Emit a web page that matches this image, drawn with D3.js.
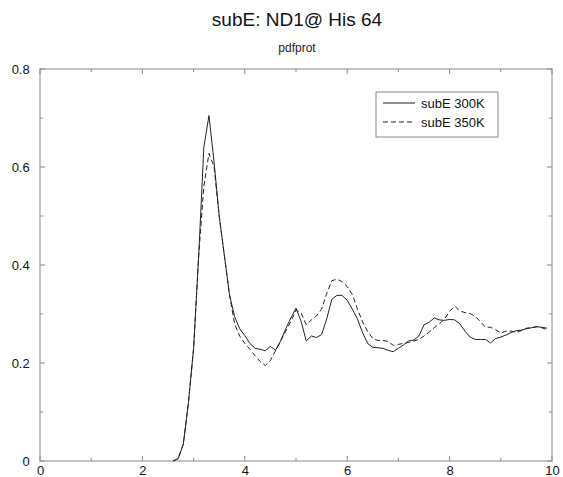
<!DOCTYPE html>
<html>
<head>
<meta charset="utf-8">
<script src="https://cdn.jsdelivr.net/npm/d3@7"></script>
<style>
  html, body { margin: 0; padding: 0; background: #fff; }
  svg { display: block; font-family: "Liberation Sans", Arial, sans-serif; }
</style>
</head>
<body>
<svg id="chart" width="563" height="477"></svg>
<script>
// Radial distance (Å) shared by both series
const distance = [
  2.6, 2.7, 2.8, 2.9, 3.0, 3.1, 3.2, 3.3, 3.4, 3.5, 3.6, 3.7, 3.8, 3.9,
  4.0, 4.1, 4.2, 4.3, 4.4, 4.5, 4.6, 4.7, 4.8, 4.9,
  5.0, 5.1, 5.2, 5.3, 5.4, 5.5, 5.6, 5.7, 5.8, 5.9,
  6.0, 6.1, 6.2, 6.3, 6.4, 6.5, 6.6, 6.7, 6.8, 6.9,
  7.0, 7.1, 7.2, 7.3, 7.4, 7.5, 7.6, 7.7, 7.8, 7.9,
  8.0, 8.1, 8.2, 8.3, 8.4, 8.5, 8.6, 8.7, 8.8, 8.9,
  9.0, 9.1, 9.2, 9.3, 9.4, 9.5, 9.6, 9.7, 9.8, 9.9
];

// subE 300K
const pdf300 = [
  0.000, 0.005, 0.035, 0.120, 0.230, 0.420, 0.640, 0.705, 0.610, 0.500, 0.420, 0.340, 0.295, 0.270,
  0.256, 0.240, 0.230, 0.228, 0.225, 0.234, 0.226, 0.245, 0.270, 0.292,
  0.312, 0.285, 0.245, 0.255, 0.252, 0.258, 0.290, 0.330, 0.338, 0.338,
  0.328, 0.310, 0.290, 0.262, 0.240, 0.232, 0.231, 0.230, 0.226, 0.223,
  0.230, 0.237, 0.245, 0.247, 0.255, 0.278, 0.283, 0.292, 0.288, 0.287,
  0.289, 0.288, 0.280, 0.265, 0.253, 0.248, 0.248, 0.248, 0.241, 0.250,
  0.253, 0.257, 0.262, 0.266, 0.267, 0.270, 0.272, 0.274, 0.273, 0.271
];

// subE 350K
const pdf350 = [
  0.000, 0.005, 0.035, 0.120, 0.230, 0.420, 0.560, 0.628, 0.600, 0.500, 0.420, 0.340, 0.280, 0.255,
  0.240, 0.228, 0.215, 0.203, 0.195, 0.205, 0.225, 0.245, 0.265, 0.285,
  0.308, 0.302, 0.278, 0.288, 0.296, 0.310, 0.342, 0.368, 0.371, 0.366,
  0.356, 0.340, 0.310, 0.284, 0.264, 0.250, 0.246, 0.246, 0.244, 0.236,
  0.238, 0.240, 0.242, 0.245, 0.248, 0.255, 0.263, 0.272, 0.280, 0.290,
  0.305, 0.316, 0.306, 0.303, 0.301, 0.295, 0.285, 0.273, 0.273, 0.268,
  0.261, 0.265, 0.265, 0.263, 0.266, 0.271, 0.272, 0.274, 0.272, 0.268
];

const seriesNames = ["subE 300K", "subE 350K"];
const xTicks = [0, 2, 4, 6, 8, 10];
const yTicks = [0, 0.2, 0.4, 0.6, 0.8];
const titleText = "subE: ND1@ His 64";
const subtitleText = "pdfprot";

const svg = d3.select("#chart");
const frame = "#8a8a8a";
const ink = "#222";

const x = d3.scaleLinear().domain([0, 10]).range([40, 552]);
const y = d3.scaleLinear().domain([0, 0.8]).range([461, 69]);

// Titles
svg.append("text")
  .attr("x", 297).attr("y", 26)
  .attr("text-anchor", "middle")
  .attr("font-size", 19)
  .attr("fill", "#111")
  .text(titleText);
svg.append("text")
  .attr("x", 297).attr("y", 52)
  .attr("text-anchor", "middle")
  .attr("font-size", 12)
  .attr("fill", "#222")
  .text(subtitleText);

// Plot frame
svg.append("rect")
  .attr("x", x(0)).attr("y", y(0.8))
  .attr("width", x(10) - x(0)).attr("height", y(0) - y(0.8))
  .attr("fill", "none").attr("stroke", frame).attr("stroke-width", 1);

// Axes with inward ticks (major + minor)
const minorX = d3.range(0, 10.01, 1);
const minorY = d3.range(0, 0.801, 0.1);

const bottom = d3.axisBottom(x).tickValues(xTicks).tickSize(0).tickPadding(0)
  .tickFormat(d3.format("d"));
const gb = svg.append("g").attr("transform", `translate(0,${y(0)})`).call(bottom);
gb.select(".domain").remove();
gb.selectAll("text").attr("font-size", 13).attr("fill", "#111")
  .attr("y", 14).attr("dy", null)
  .attr("font-family", "Liberation Sans, Arial, sans-serif");

const left = d3.axisLeft(y).tickValues(yTicks).tickSize(0)
  .tickFormat(d => d === 0 ? "0" : d3.format(".1f")(d));
const gl = svg.append("g").attr("transform", `translate(${x(0) - 6},0)`).call(left);
gl.select(".domain").remove();
gl.selectAll("text").attr("font-size", 13).attr("fill", "#111").attr("dx", "-0.1em")
  .attr("font-family", "Liberation Sans, Arial, sans-serif");

const ticks = svg.append("g").attr("stroke", frame).attr("stroke-width", 1);
minorX.forEach(v => {
  const len = (v % 2 === 0) ? 5 : 3;
  ticks.append("line").attr("x1", x(v)).attr("x2", x(v)).attr("y1", y(0)).attr("y2", y(0) - len);
  ticks.append("line").attr("x1", x(v)).attr("x2", x(v)).attr("y1", y(0.8)).attr("y2", y(0.8) + len);
});
minorY.forEach(v => {
  const major = Math.abs(Math.round(v * 10) % 2) === 0;
  const len = major ? 5 : 3;
  ticks.append("line").attr("x1", x(0)).attr("x2", x(0) + len).attr("y1", y(v)).attr("y2", y(v));
  ticks.append("line").attr("x1", x(10)).attr("x2", x(10) - len).attr("y1", y(v)).attr("y2", y(v));
});

// Curves
const line = d3.line().x(d => x(d[0])).y(d => y(d[1]));
const data300 = distance.map((r, i) => [r, pdf300[i]]);
const data350 = distance.map((r, i) => [r, pdf350[i]]);

svg.append("path").datum(data300)
  .attr("d", line).attr("fill", "none")
  .attr("stroke", ink).attr("stroke-width", 1);
svg.append("path").datum(data350)
  .attr("d", line).attr("fill", "none")
  .attr("stroke", ink).attr("stroke-width", 1)
  .attr("stroke-dasharray", "5,3");

// Legend
const lg = svg.append("g");
lg.append("rect")
  .attr("x", 376).attr("y", 92).attr("width", 122).attr("height", 45)
  .attr("fill", "#fff").attr("stroke", frame).attr("stroke-width", 1);
const dashes = [null, "5,3"];
seriesNames.forEach((name, i) => {
  const cy = 103 + i * 19;
  lg.append("line")
    .attr("x1", 383).attr("x2", 415).attr("y1", cy).attr("y2", cy)
    .attr("stroke", ink).attr("stroke-width", 1)
    .attr("stroke-dasharray", dashes[i]);
  lg.append("text")
    .attr("x", 421).attr("y", cy).attr("dy", "0.35em")
    .attr("font-size", 13).attr("fill", "#111")
    .text(name);
});
</script>
</body>
</html>
